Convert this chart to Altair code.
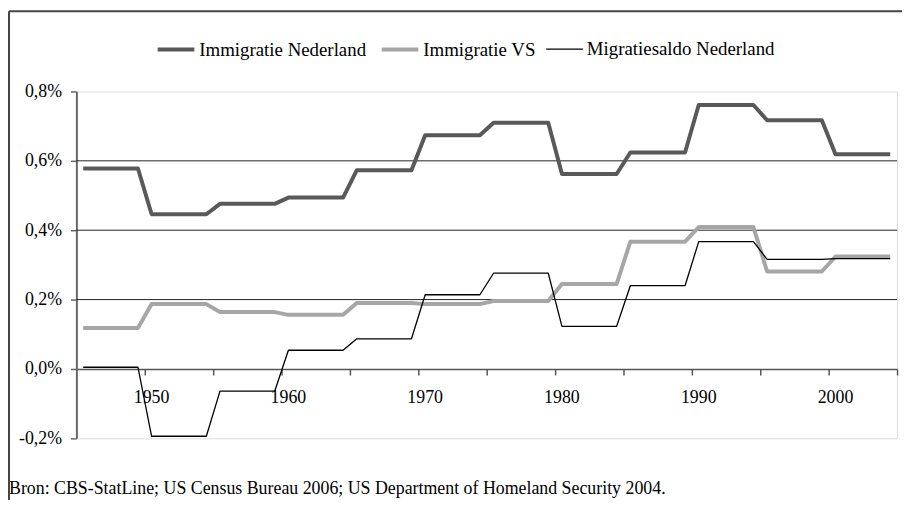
import altair as alt
import pandas as pd

# ---- data (values in %) ----
period_start = [1945, 1950, 1955, 1960, 1965, 1970, 1975, 1980, 1985, 1990, 1995, 2000]
immigratie_nl = [0.578, 0.446, 0.476, 0.494, 0.573, 0.674, 0.710, 0.562, 0.624, 0.761, 0.717, 0.619]
immigratie_vs = [0.118, 0.187, 0.164, 0.156, 0.190, 0.187, 0.196, 0.245, 0.367, 0.409, 0.281, 0.324]
migratiesaldo_nl = [0.005, -0.194, -0.064, 0.054, 0.087, 0.214, 0.276, 0.123, 0.240, 0.367, 0.316, 0.318]

series_names = ["Immigratie Nederland", "Immigratie VS", "Migratiesaldo Nederland"]
series_colors = ["#595959", "#a6a6a6", "#000000"]
series_widths = [4, 4, 1.3]

decade_labels = [1950, 1960, 1970, 1980, 1990, 2000]
tick_boundaries = [1949.5, 1954.5, 1959.5, 1964.5, 1969.5, 1974.5, 1979.5, 1984.5,
                   1989.5, 1994.5, 1999.5, 2004.5]
y_ticks = [-0.2, 0.0, 0.2, 0.4, 0.6, 0.8]
grid_values = [0.2, 0.4, 0.6]
source_text = "Bron: CBS-StatLine; US Census Bureau 2006; US Department of Homeland Security 2004."

FONT = "Liberation Serif"

rows = []
for name, vals in zip(series_names, [immigratie_nl, immigratie_vs, migratiesaldo_nl]):
    for start, v in zip(period_start, vals):
        for yr in range(start, start + 5):
            rows.append({"year": yr, "value": v, "series": name})
df = pd.DataFrame(rows)

xscale = alt.Scale(domain=[1944.5, 2004.5], nice=False, zero=False)
yscale = alt.Scale(domain=[-0.2, 0.8], nice=False, zero=False)

x_axis = alt.Axis(
    values=tick_boundaries, labels=False, ticks=True, tickSize=6,
    tickColor="#555555", tickWidth=1.5, domain=True, domainColor="#555555",
    domainWidth=1.5, grid=False, offset=-70, title=None)
y_axis = alt.Axis(
    values=y_ticks, grid=False, title=None, tickSize=6, tickColor="#666666",
    tickWidth=1.5, domain=True, domainColor="#666666", domainWidth=2, labelFont=FONT,
    labelFontSize=18, labelColor="#000000", labelPadding=9,
    labelExpr="replace(replace(format(datum.value, '.1f'), '.', ','), '\u2212', '-') + '%'")

legend = alt.Legend(
    title=None, orient="none", legendX=80, legendY=-63, direction="horizontal",
    symbolType="stroke", symbolSize=1369, labelFont=FONT, labelFontSize=19,
    labelColor="#000000", labelLimit=0, columnPadding=7, labelOffset=3,
)

grid = alt.Chart(pd.DataFrame({"g": grid_values})).mark_rule(
    color="#222222", strokeWidth=1
).encode(y=alt.Y("g:Q", scale=yscale, axis=y_axis))

lines = alt.Chart(df).mark_line(strokeJoin="round").encode(
    x=alt.X("year:Q", scale=xscale, axis=x_axis),
    y=alt.Y("value:Q", scale=yscale, axis=y_axis),
    color=alt.Color("series:N", scale=alt.Scale(domain=series_names, range=series_colors),
                    legend=legend),
    strokeWidth=alt.StrokeWidth("series:N",
                                scale=alt.Scale(type="ordinal", domain=series_names, range=series_widths),
                                legend=legend),
)

xlabels = alt.Chart(pd.DataFrame({"year": decade_labels})).mark_text(
    font=FONT, fontSize=18, color="#000000", dy=29, baseline="middle"
).encode(x=alt.X("year:Q", scale=xscale, axis=x_axis), y=alt.datum(0),
         text=alt.Text("year:Q", format="d"))

source = alt.Chart(pd.DataFrame({"t": [source_text]})).mark_text(
    font=FONT, fontSize=18, color="#000000", align="left", baseline="middle"
).encode(x=alt.value(-68), y=alt.value(401), text="t:N")

frame_left = alt.Chart(pd.DataFrame({"a": [0]})).mark_rule(color="#444444", strokeWidth=2).encode(
    x=alt.value(-68), y=alt.value(-81), y2=alt.value(420))
frame_top = alt.Chart(pd.DataFrame({"a": [0]})).mark_rule(color="#444444", strokeWidth=2).encode(
    x=alt.value(-68), x2=alt.value(840), y=alt.value(-81))

chart = alt.layer(grid, lines, xlabels, source, frame_left, frame_top).properties(
    width=828, height=350,
    autosize=alt.AutoSizeParams(type="none"),
    padding={"left": 69, "top": 82, "right": 5, "bottom": 60},
).configure_view(stroke="#a0a0a0", strokeWidth=2).configure(background="#ffffff")

chart.save("out.html", embed_options={"renderer": "svg", "actions": False})
